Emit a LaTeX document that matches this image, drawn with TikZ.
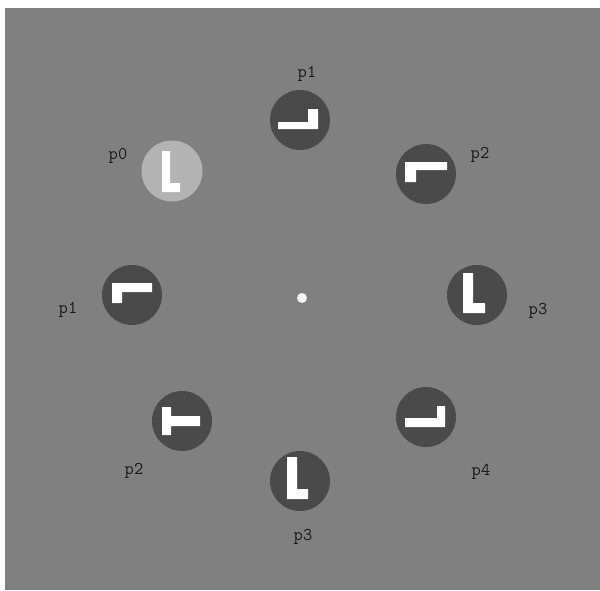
\documentclass[tikz,border=0pt]{standalone}
\usepackage{fontspec}
\definecolor{bggray}{HTML}{808080}
\definecolor{darkdisc}{HTML}{4A4A4A}
\definecolor{lightdisc}{HTML}{B3B3B3}
\begin{document}
\begin{tikzpicture}[x=1pt,y=-1pt,
  disc/.style={circle,fill=darkdisc,minimum size=60pt,inner sep=0pt},
  litdisc/.style={circle,fill=lightdisc,minimum size=61pt,inner sep=0pt},
  plabel/.style={font=\ttfamily\fontsize{18}{18}\selectfont,text=black!90,inner sep=0pt},
  glyph/.style={fill=white,draw=none}]
\useasboundingbox (0,0) rectangle (600,590);
\fill[white] (0,0) rectangle (600,590);
\fill[bggray] (5,8) rectangle (600,590);
% discs
\node[disc] (d1) at (300,120) {};
\node[litdisc] (d0) at (172,171) {};
\node[disc] (d2) at (426,174) {};
\node[disc] (d1l) at (132,295) {};
\node[disc] (d3r) at (477,295) {};
\node[disc] (d2l) at (182,421) {};
\node[disc] (d4) at (426,417) {};
\node[disc] (d3b) at (300,481) {};
\node[circle,fill=white!92!bggray,minimum size=10pt,inner sep=0pt] (c) at (302,298) {};
% glyphs
\fill[glyph] (278,122) -- (308,122) -- (308,109) -- (318,109) -- (318,129) -- (278,129) -- cycle;
\fill[glyph] (162,151) -- (170,151) -- (170,183) -- (180,183) -- (180,192) -- (162,192) -- cycle;
\fill[glyph] (405,162) -- (447,162) -- (447,170) -- (416,170) -- (416,182) -- (405,182) -- cycle;
\fill[glyph] (112,283) -- (152,283) -- (152,292) -- (122,292) -- (122,303) -- (112,303) -- cycle;
\fill[glyph] (463,273) -- (473,273) -- (473,303) -- (485,303) -- (485,313) -- (463,313) -- cycle;
\fill[glyph] (162,407) -- (171,407) -- (171,416) -- (200,416) -- (200,426) -- (171,426) -- (171,435) -- (162,435) -- cycle;
\fill[glyph] (405,418) -- (437,418) -- (437,406) -- (445,406) -- (445,427) -- (405,427) -- cycle;
\fill[glyph] (287,457) -- (297,457) -- (297,489) -- (308,489) -- (308,499) -- (287,499) -- cycle;
% labels
\node[plabel] (l1) at (307,74) {p1};
\node[plabel] (l0) at (118,156) {p0};
\node[plabel] (l2) at (480,155) {p2};
\node[plabel] (l1l) at (68,310) {p1};
\node[plabel] (l3r) at (538,311) {p3};
\node[plabel] (l2l) at (134,471) {p2};
\node[plabel] (l4) at (481,472) {p4};
\node[plabel] (l3b) at (303,537) {p3};
\end{tikzpicture}
\end{document}
